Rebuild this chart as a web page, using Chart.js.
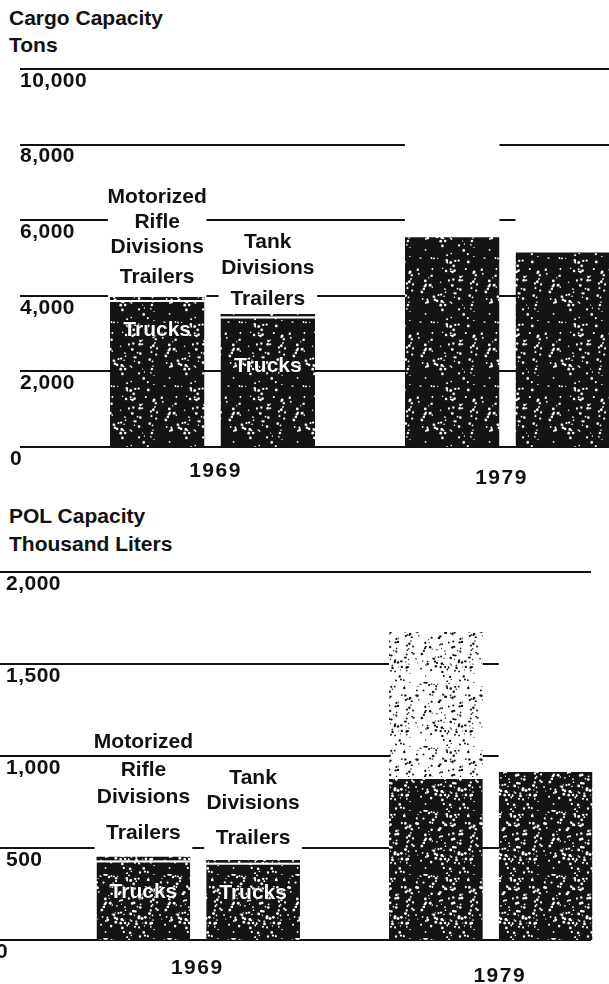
<!DOCTYPE html>
<html>
<head>
<meta charset="utf-8">
<script src="https://cdn.jsdelivr.net/npm/chart.js@4.4.1/dist/chart.umd.min.js"></script>
<style>
  html, body { margin: 0; padding: 0; background: #fff; width: 609px; height: 984px; overflow: hidden; }
  .title { position: absolute; left: 9px; font: bold 21px "Liberation Sans", Arial, sans-serif; color: #111; white-space: nowrap; }
  canvas { position: absolute; left: 0; }
</style>
</head>
<body>
<div class="title" style="top:6px">Cargo Capacity</div>
<div class="title" style="top:33px">Tons</div>
<div class="title" style="top:504px">POL Capacity</div>
<div class="title" style="top:532px">Thousand Liters</div>
<canvas id="cargo" width="680" height="490" style="top:0"></canvas>
<canvas id="pol" width="680" height="494" style="top:490px"></canvas>
<script>
const years = ['1969', '1979'];

// cargo capacity, tons
const cargoTrucksMRD   = [3890, 5600];
const cargoTrailersMRD = [80, 3000];
const cargoTrucksTD    = [3450, 5200];
const cargoTrailersTD  = [70, 1800];
const cargoTicks = [0, 2000, 4000, 6000, 8000, 10000];

// POL capacity, thousand liters
const polTrucksMRD   = [432, 886];
const polTrailersMRD = [20, 788];
const polTrucksTD    = [420, 924];
const polTrailersTD  = [15, 770];
const polTicks = [0, 500, 1000, 1500, 2000];

const FONT = 'bold 21px "Liberation Sans", Arial, sans-serif';
const INK = '#111';

// speckled fill like the halftone in the scan (fixed sequence, texture only)
function speckle(ctx, bg, fg, count, rMin, rMax) {
  const size = 64;
  const c = document.createElement('canvas');
  c.width = c.height = size;
  const g = c.getContext('2d');
  g.fillStyle = bg;
  g.fillRect(0, 0, size, size);
  g.fillStyle = fg;
  let s = 11;
  const next = () => { s = (s * 9301 + 49297) % 233280; return s / 233280; };
  for (let i = 0; i < count; i++) {
    const x = next() * size, y = next() * size, r = rMin + next() * (rMax - rMin);
    g.beginPath();
    g.arc(x, y, r, 0, Math.PI * 2);
    g.fill();
  }
  return ctx.createPattern(c, 'repeat');
}

function sketchPlugin(cfg) {
  return {
    id: 'sketch',
    beforeDatasetsDraw(chart) {
      const { ctx, scales: { y } } = chart;
      ctx.save();
      // grid lines reaching past the plot to the page edge
      ctx.strokeStyle = INK;
      ctx.lineWidth = 2;
      cfg.ticks.forEach(v => {
        const py = Math.round(y.getPixelForValue(v));
        ctx.beginPath();
        ctx.moveTo(cfg.lineLeft, py);
        ctx.lineTo(cfg.lineRight, py);
        ctx.stroke();
      });
      // white blocks behind the division labels
      ctx.fillStyle = '#fff';
      cfg.labels.forEach(l => {
        const bar = chart.getDatasetMeta(l.ds).data[0];
        const half = bar.width / 2 + 2;
        const top = l.lines[l.boxFrom][1] - 12;
        ctx.fillRect(bar.x - half, top, half * 2, bar.y - top - 3);
      });
      ctx.restore();
    },
    afterDatasetsDraw(chart) {
      const { ctx, scales: { x, y } } = chart;
      ctx.save();
      ctx.font = FONT;
      ctx.fillStyle = INK;
      ctx.textBaseline = 'middle';
      // tick labels under each line
      ctx.letterSpacing = '0.5px';
      ctx.textAlign = 'left';
      cfg.ticks.forEach(v => {
        const left = v === 0 ? cfg.zeroLeft : cfg.tickLeft;
        ctx.fillText(v.toLocaleString('en-US'), left, y.getPixelForValue(v) + 12);
      });
      // years
      ctx.letterSpacing = '1.5px';
      ctx.textAlign = 'center';
      years.forEach((yr, i) => {
        ctx.fillText(yr, x.getPixelForValue(i) + cfg.yearDx[i], chart.chartArea.bottom + cfg.yearDy[i]);
      });
      // division labels
      ctx.letterSpacing = '0px';
      cfg.labels.forEach(l => {
        const bar = chart.getDatasetMeta(l.ds).data[0];
        ctx.fillStyle = INK;
        l.lines.forEach(([t, py]) => ctx.fillText(t, bar.x, py));
        ctx.lineWidth = 1;
        ctx.strokeStyle = '#000';
        ctx.fillStyle = '#fff';
        ctx.strokeText('Trucks', bar.x, l.trucksY);
        ctx.fillText('Trucks', bar.x, l.trucksY);
      });
      ctx.restore();
    }
  };
}

function makeChart(id, series, colors, ticks, pad, cfg) {
  const canvas = document.getElementById(id);
  const ctx = canvas.getContext('2d');
  const dark = speckle(ctx, '#141414', '#fff', series.dots, 0.6, 1.5);
  const light = speckle(ctx, '#fff', '#111', 150, 0.5, 1.3);
  const pick = k => k === 'dark' ? dark : k === 'light' ? light : '#fff';
  const ds = (label, data, stack, fill, top) => ({
    label, data, stack,
    backgroundColor: fill.map(pick),
    borderColor: '#fff',
    borderWidth: top ? { top: 2, left: 0, right: 0, bottom: 0 } : 0,
    borderSkipped: false,
    categoryPercentage: 0.75,
    barPercentage: 0.855,
  });
  return new Chart(ctx, {
    type: 'bar',
    data: {
      labels: years,
      datasets: [
        ds('Motorized Rifle Divisions Trucks', series.mrdTrucks, 'mrd', ['dark', 'dark'], true),
        ds('Motorized Rifle Divisions Trailers', series.mrdTrailers, 'mrd', colors.mrd, false),
        ds('Tank Divisions Trucks', series.tdTrucks, 'td', ['dark', 'dark'], true),
        ds('Tank Divisions Trailers', series.tdTrailers, 'td', colors.td, false),
      ],
    },
    options: {
      responsive: false,
      animation: false,
      layout: { padding: pad },
      plugins: { legend: { display: false }, tooltip: { enabled: false } },
      scales: {
        x: { display: false, stacked: true },
        y: { display: false, stacked: true, min: 0, max: ticks[ticks.length - 1] },
      },
    },
    plugins: [sketchPlugin(Object.assign({ ticks }, cfg))],
  });
}

makeChart('cargo',
  { mrdTrucks: cargoTrucksMRD, mrdTrailers: cargoTrailersMRD, tdTrucks: cargoTrucksTD, tdTrailers: cargoTrailersTD, dots: 90 },
  { mrd: ['dark', 'white'], td: ['dark', 'white'] },
  cargoTicks,
  { left: 65, right: 25, top: 69, bottom: 43 },
  {
    lineLeft: 20, lineRight: 609, tickLeft: 20, zeroLeft: 10, yearDx: [3, -6], yearDy: [24, 31],
    labels: [
      { ds: 0, boxFrom: 0, lines: [['Motorized', 197], ['Rifle', 222], ['Divisions', 247], ['Trailers', 277]], trucksY: 330 },
      { ds: 2, boxFrom: 0, lines: [['Tank', 242], ['Divisions', 268], ['Trailers', 299]], trucksY: 366 },
    ],
  });

makeChart('pol',
  { mrdTrucks: polTrucksMRD, mrdTrailers: polTrailersMRD, tdTrucks: polTrucksTD, tdTrailers: polTrailersTD, dots: 150 },
  { mrd: ['dark', 'light'], td: ['dark', 'white'] },
  polTicks,
  { left: 52, right: 43, top: 82, bottom: 44 },
  {
    lineLeft: 0, lineRight: 591, tickLeft: 6, zeroLeft: -4, yearDx: [-1, 9], yearDy: [28, 36],
    labels: [
      { ds: 0, boxFrom: 1, lines: [['Motorized', 252], ['Rifle', 280], ['Divisions', 307], ['Trailers', 343]], trucksY: 402 },
      { ds: 2, boxFrom: 0, lines: [['Tank', 288], ['Divisions', 313], ['Trailers', 348]], trucksY: 403 },
    ],
  });
</script>
</body>
</html>
